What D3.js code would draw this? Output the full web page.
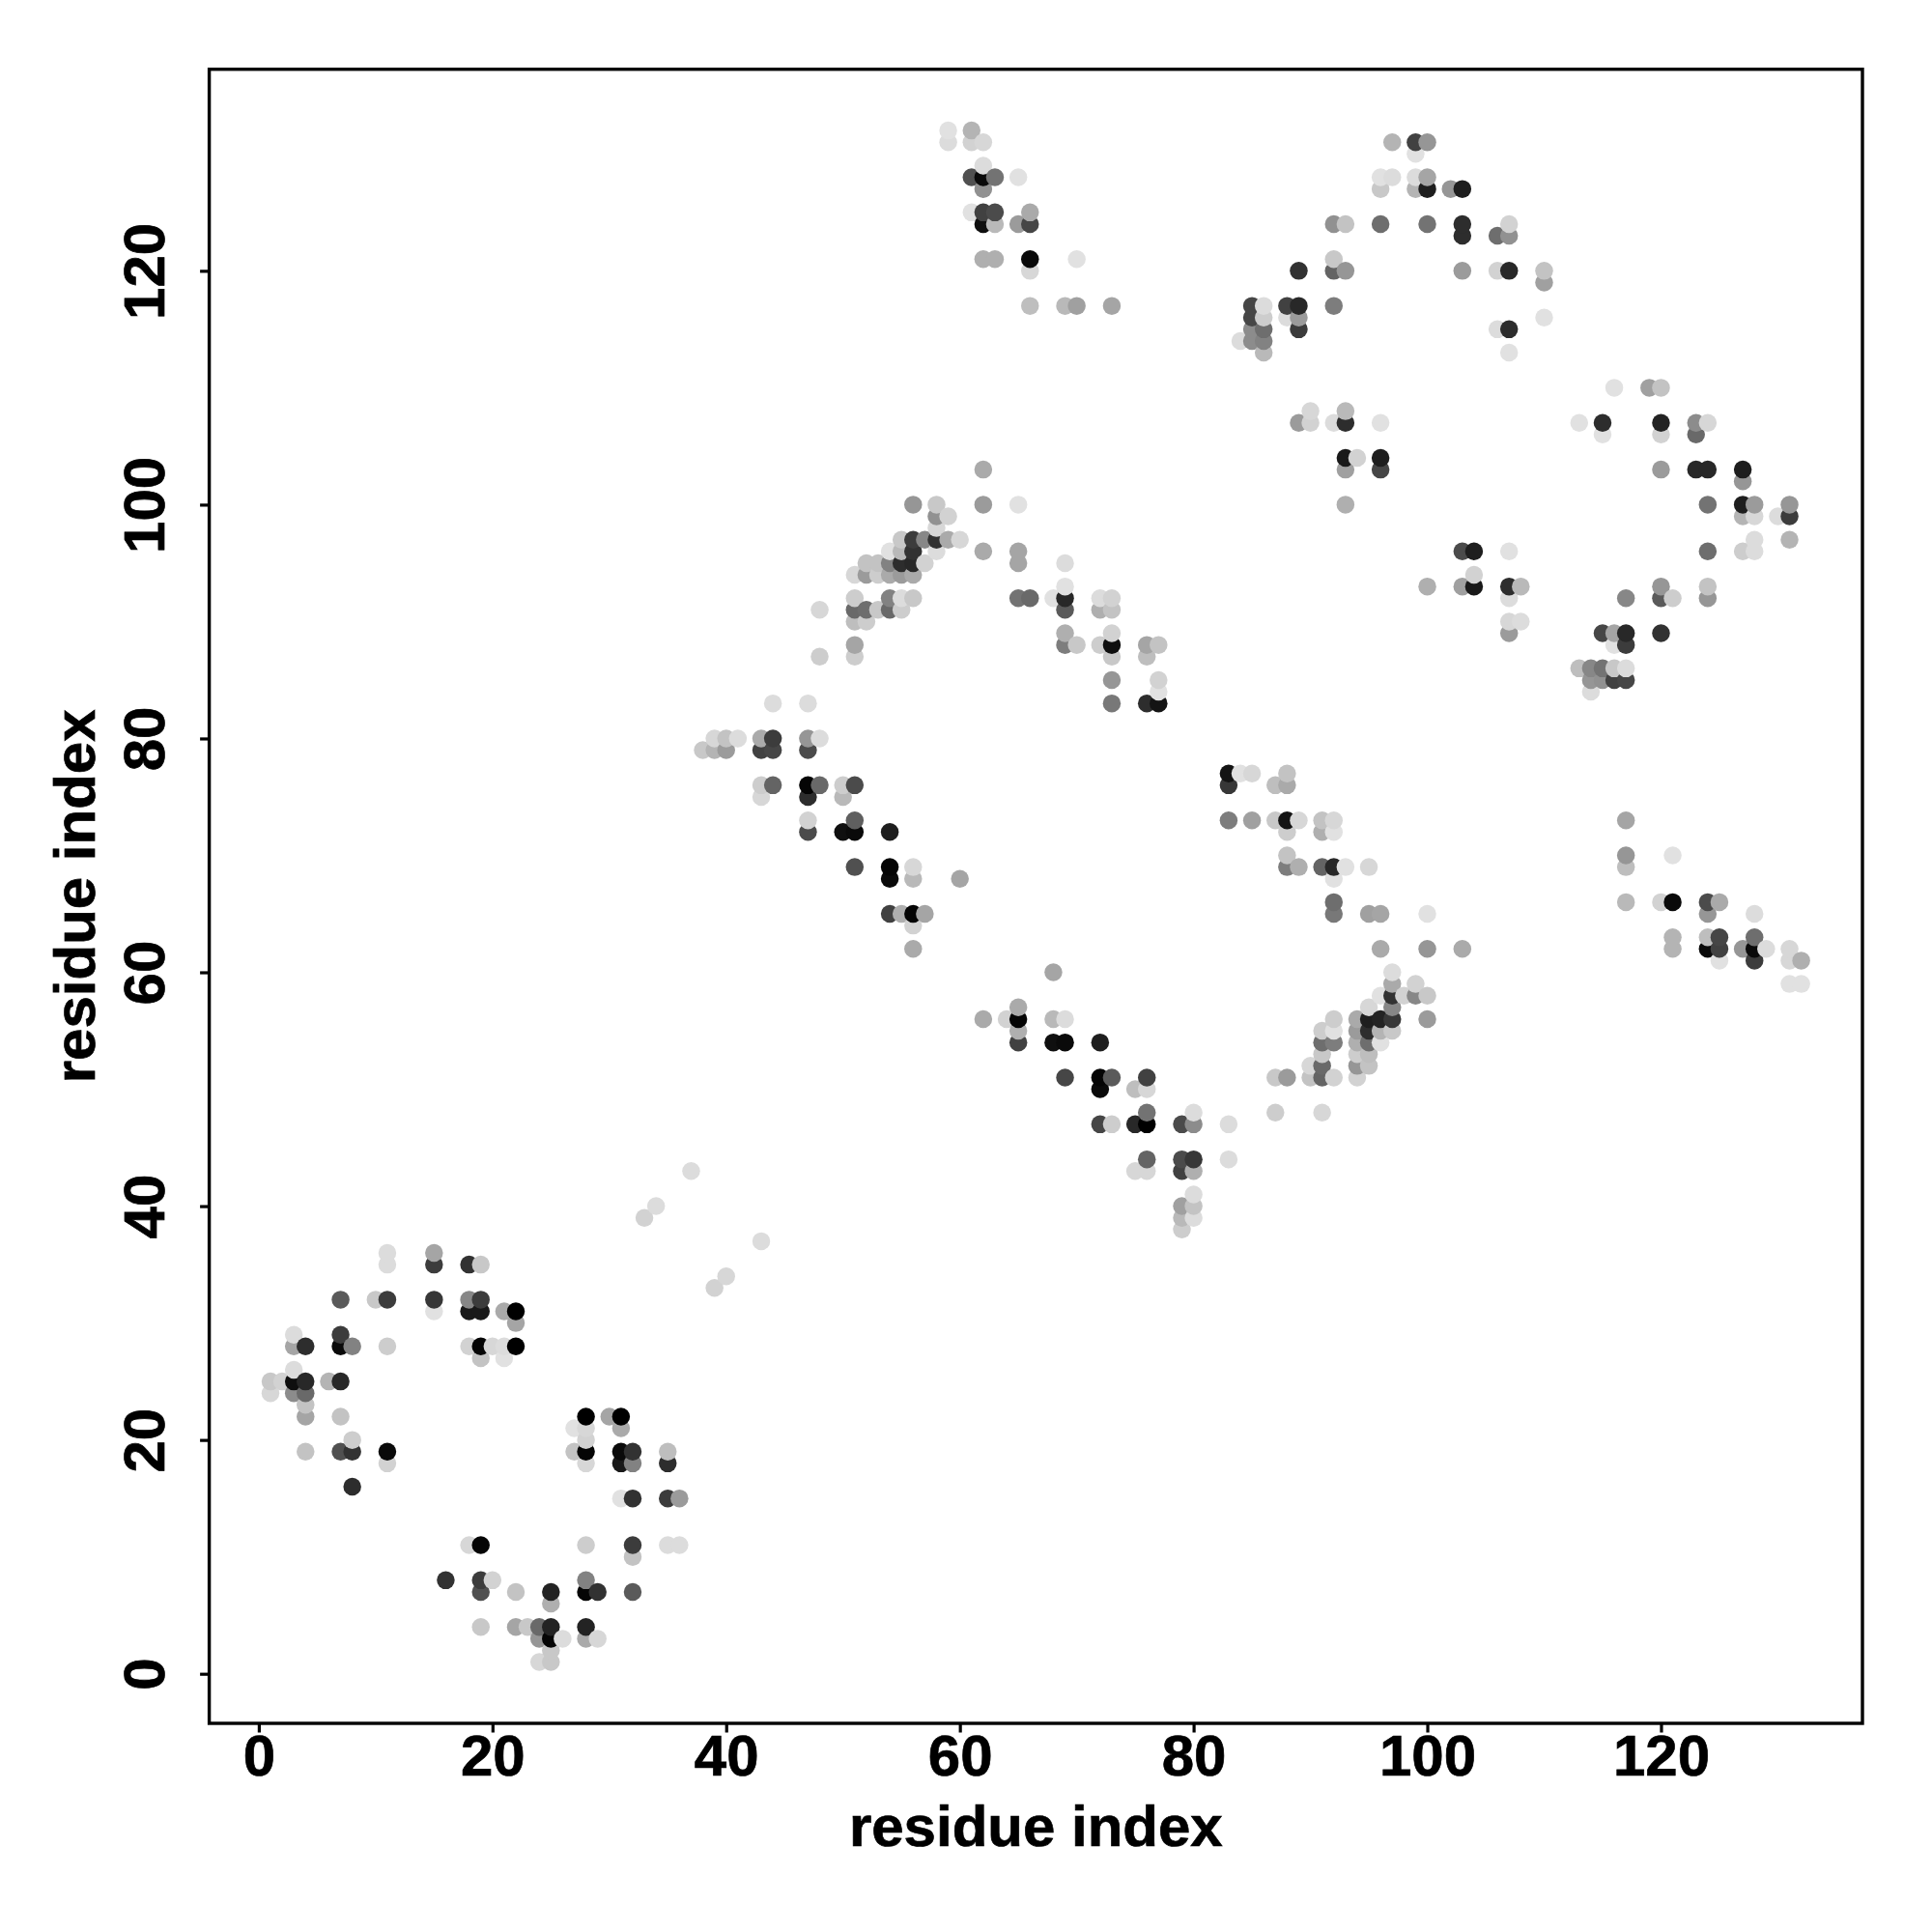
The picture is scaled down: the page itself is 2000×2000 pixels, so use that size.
<!DOCTYPE html>
<html><head><meta charset="utf-8">
<script src="https://cdn.jsdelivr.net/npm/d3@7"></script>
<style>html,body{margin:0;padding:0;background:#fff}svg{display:block}</style>
</head><body><svg id="c" width="2000" height="2000"></svg>
<script>
const xTicks=[0,20,40,60,80,100,120];
const yTicks=[0,20,40,60,80,100,120];
const axisTitle="residue index";
const rowValues=[132,131,130,129,128,127,125,124,123,121,120,119,117,116,115,114,113,110,108,107,106,104,103,102,100,99,98,97,96,95,94,93,92,91,90,89,88,87,86,85,84,83,80,79,77,76,75,73,72,70,69,68,66,65,64,63,62,61,60,59,58,57,56,55,54,53,52,51,50,48,47,44,43,41,40,39,38,37,36,35,34,33,32,31,30,29,28,27,26,25,24,23,22,21,20,19,18,16,15,11,10,8,7,6,4,3,2,1];
const rowColumns=[
[59,61],[59,61,62,97,99,100],[99],[62],[61,62,63,65,96,97,99,100],[62,96,99,100,102,103],[61,62,63,66],
[62,63,65,66,92,93,96,100,103,107],[103,106,107],[62,63,66,70,92],[66,89,92,93,103,106,107,110],[110],
[66,69,70,73,85,86,88,89,92],[85,86,88,89,110],[85,86,89,106,107],[84,85,86],[86,107],[116,119,120],[90,93],
[89,90,92,93,96,113,115,120,123,124],[115,120,123],[93,94,96],[62,93,96,120,123,124,127],[127],
[56,58,62,65,93,124,127,128,131],[58,59,127,128,130,131],[58],[55,56,57,58,59,60,128,131],
[54,55,56,58,62,65,103,104,107,124,127,128],[52,53,54,55,56,57,65,69],[51,52,53,54,55,56,104],
[69,100,103,104,107,108,120,124],[51,54,55,56,65,66,68,69,72,73,107,117,120,121,124],[48,51,52,53,54,55,69,72,73],
[51,52,107,108],[69,73,107,115,116,117,120],[51,69,70,72,73,76,77,116,117],[48,51,73,76],[113,114,115,116,117],
[73,77,114,115,116,117],[77,114],[44,47,73,76,77],[39,40,41,43,44,47,48],[38,39,40,43,44,47],[83,84,85,88],
[43,44,47,48,50,51,83,87,88],[43,47,50],[47,51,83,85,87,88,89,91,92,117],[47,50,51,54,88,91,92],[88,117,121],
[51,54,56,88,89,91,92,93,95,117],[54,56,60,92],[92,117,120,121,124,125],[54,55,56,57,92,95,96,100,124,128],[56],
[121,124,125,128],[56,96,100,103,121,124,125,127,128,129,131],[125,128,131,132],[68,97],[97,99,131,132],
[96,97,98,99,100],[65,95,97],[62,64,65,68,69,92,94,95,96,97,100],[65,91,92,94,95,96,97],[65,68,69,72,91,92,94,95,96],
[91,94,95],[90,91,94,95],[69,72,73,76,87,88,90,91,92,94],[72,75,76],[76,80,87,91],[72,73,75,76,79,80,83],
[76,79,80,83],[37,75,76,79,80],[80],[34,79,80],[33,79,80],[79],[43],[11,15],[11,15,18,19],[40],[39],
[7,10,11,15,18,19],[15,18,19,21,22],[22],[3,7],[3,4,7,8,11,18,19,20,21,22],[19,21],[3],[1,2,3,4,6,7],[1,3,4],[4],
[4,7,28,30,31],[27,28,31],[8,28],[4,7,8,11,27,28,31,32,35],[11,28,31,32,35],[8],[31,32,35,36],[18,19,28,32,35,36],
[32],[16,19,20,28],[19,22,25,28,29,32],[25],[19,22,23,24,25,28],[24,25,26,28,29],[25],[24,25]];
const rowShades=[
[225,180],[220,210,215,180,65,150],[225],[220],[80,10,115,225,225,220,220,165],[145,200,180,30,150,30],[225,65,75,170],
[15,185,155,70,145,195,110,115,45,210],[45,110,145],[175,175,10,225,200],[215,50,100,150,155,210,40,195],[160],
[190,185,160,165,70,220,65,40,125],[70,205,220,155,225],[140,110,60,220,45],[220,140,130],[185,225],[225,160,195],[215,185],
[155,210,220,45,225,225,45,35,140,215],[225,210,105],[25,210,30],[170,160,70,155,40,40,30],[150],
[150,200,155,225,175,115,30,155,150],[145,210,180,215,220,60],[215],[200,60,135,50,170,215,220,180],
[225,185,50,220,170,165,75,30,225,110,205,220],[195,195,130,45,40,210,165,220],[215,155,205,170,155,170,210],
[225,175,160,25,45,185,150,195],[205,130,220,200,115,105,225,40,220,210,220,135,90,205,150],[215,105,110,200,105,205,90,175,195],
[190,205,215,220],[175,210,155,70,165,40,50],[165,125,200,205,15,165,195,225,60],[205,205,200,190],[190,135,115,200,220],
[150,210,150,145,65,70],[225,220],[220,220,120,45,20],[215,195,220,170,60,150,220],[200,180,155,65,70,75],[20,225,215,195],
[205,100,5,105,205,75,55,190,170],[215,45,185],[210,95,125,160,200,20,215,195,215,165],[75,15,10,30,205,175,225],[195,150,225],
[80,5,215,125,175,100,40,225,215,190],[10,185,165,225],[110,185,210,10,75,170],[65,175,5,165,120,160,165,225,150,220],[210],
[180,190,70,110],[170,170,150,170,180,10,65,150,10,220,215],[225,60,215,175],[165,220],[170,210,225,225],
[225,50,210,135,200],[170,215,135],[170,210,5,185,220,205,170,30,35,55,155],[175,205,225,155,45,180,200],[65,15,10,30,110,125,175,110,225],
[200,205,190],[215,105,150,195],[70,5,90,65,200,155,195,100,210,210],[10,190,215],[115,220,205,215],[70,205,40,0,75,140,220],
[100,75,55,220],[220,215,215,65,175],[220],[220,160,195],[210,185,220],[205],[220],[220,165],[220,60,50,200],[215],[210],
[90,200,60,55,135,60],[225,25,25,170,0],[165],[220,60],[165,45,10,130,205,210,5,215,220,0],[195,225],[220],[200,210,15,40,180,40],[215,140,105],[195],
[165,195,0,165,0],[225,215,170],[205,210],[195,80,50,10,195,5,10,50,190],[210,215,25,130,45],[45],[225,50,60,155],[215,5,205,60,220,220],
[195],[50,60,210,130],[80,195,35,5,50,90],[175],[200,165,200,105,35,35],[150,5,220,170,215],[200],[215,200]];

const points=[];
rowValues.forEach((y,r)=>rowColumns[r].forEach((x,k)=>points.push({x,y,shade:rowShades[r][k]})));
points.sort((a,b)=>d3.ascending(a.x,b.x)||d3.ascending(a.y,b.y));

const L=216.6,R=1928,T=71.7,B=1784,FONT='"Liberation Sans",Arial,sans-serif';
const x=d3.scaleLinear().domain([-4.24,137.24]).range([L,R]);
const y=d3.scaleLinear().domain([-4.24,137.24]).range([B,T]);
const svg=d3.select("#c");
svg.append("rect").attr("width",2000).attr("height",2000).attr("fill","#fff");
svg.append("g").selectAll("circle").data(points).join("circle")
 .attr("cx",d=>x(d.x)).attr("cy",d=>y(d.y)).attr("r",9.25)
 .attr("fill",d=>d3.rgb(d.shade,d.shade,d.shade).formatHex());
svg.append("rect").attr("x",L).attr("y",T).attr("width",R-L).attr("height",B-T)
 .attr("fill","none").attr("stroke","#000").attr("stroke-width",3.4);

const gx=svg.append("g").attr("transform",`translate(0,${B})`)
 .call(d3.axisBottom(x).tickValues(xTicks).tickSize(9.5).tickPadding(0).tickSizeOuter(0));
const gy=svg.append("g").attr("transform",`translate(${L},0)`)
 .call(d3.axisLeft(y).tickValues(yTicks).tickSize(9.5).tickPadding(0).tickSizeOuter(0));
const bold=s=>s.attr("font-family",FONT).attr("font-weight","bold").attr("font-size",60).attr("fill","#000")
 .attr("stroke","#000").attr("stroke-width",0.7);
[gx,gy].forEach(g=>{g.select(".domain").remove();
 g.selectAll("line").attr("stroke","#000").attr("stroke-width",3.2);
 g.selectAll("text").call(bold);});
gx.selectAll("text").attr("dy",null).attr("y",1838-B).attr("text-anchor","middle");
gy.selectAll("text").attr("dy",null).attr("x",null).attr("y",null)
 .attr("text-anchor","middle")
 .attr("transform",`translate(${170-L},0) rotate(-90)`);
svg.append("text").text(axisTitle).attr("x",(L+R)/2).attr("y",1911).attr("text-anchor","middle").call(bold);
svg.append("text").text(axisTitle).attr("transform",`translate(98,${(T+B)/2}) rotate(-90)`).attr("text-anchor","middle").call(bold);
</script></body></html>
